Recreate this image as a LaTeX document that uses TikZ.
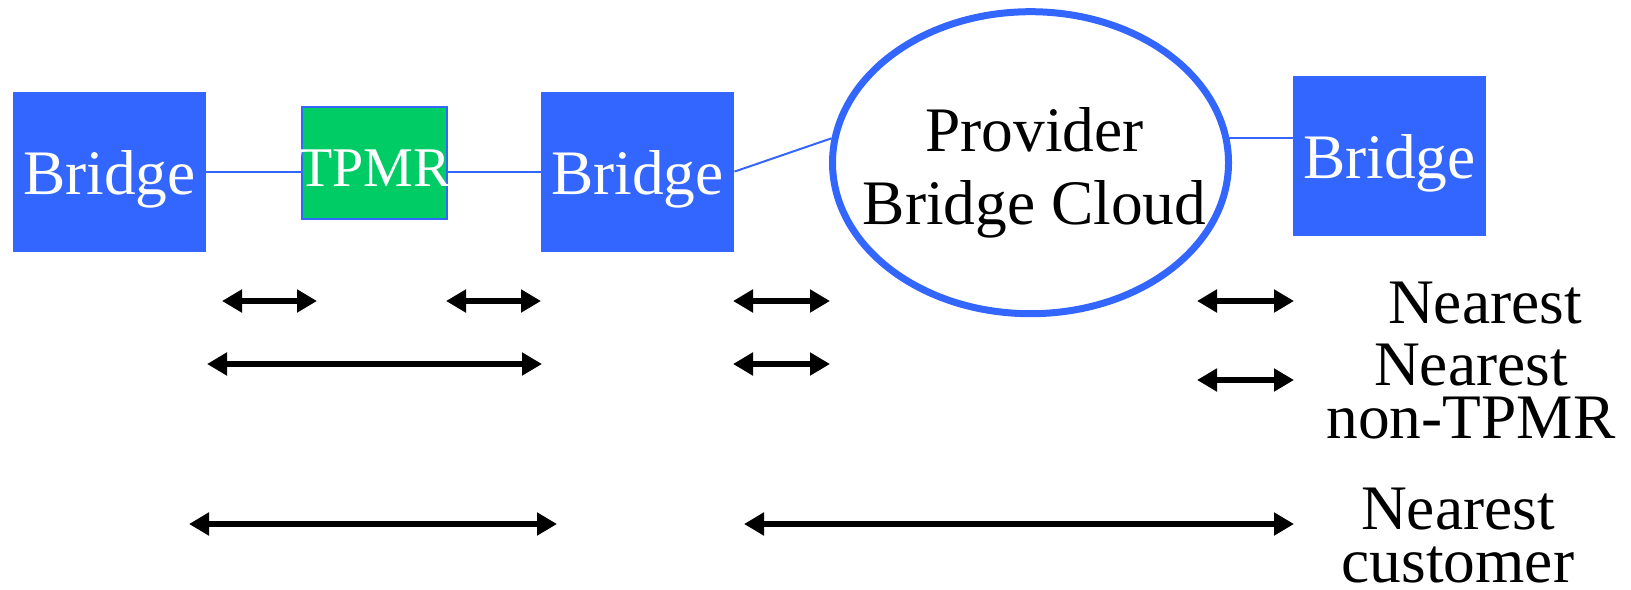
\documentclass[tikz,border=0pt]{standalone}
\usepackage{fontspec}
\setmainfont{Liberation Serif}
\usetikzlibrary{arrows.meta,shapes.geometric}
\definecolor{bridgeblue}{RGB}{51,102,255}
\definecolor{tpmrgreen}{RGB}{0,204,102}

\begin{document}
\begin{tikzpicture}[
        x=0.5pt, y=-0.5pt,
        bridgebox/.style={
            rectangle,
            fill=bridgeblue,
            minimum width=96.6pt,
            minimum height=80pt,
            inner sep=0pt,
            text=white,
            text height=23pt,
            text depth=0pt,
            font=\fontsize{31.7}{36.5}\selectfont
        },
        tpmrbox/.style={
            rectangle,
            fill=tpmrgreen,
            draw=bridgeblue,
            line width=1pt,
            minimum width=72.7pt,
            minimum height=56.2pt,
            inner sep=0pt,
            text=white,
            text height=23.5pt,
            text depth=0pt,
            font=\fontsize{28}{30}\selectfont
        },
        cloudshape/.style={
            ellipse,
            draw=bridgeblue,
            line width=3.5pt,
            minimum width=198pt,
            minimum height=151pt,
            inner sep=0pt
        },
        cloudtext/.style={align=center, inner sep=0pt, font=\fontsize{31.7}{36.5}\selectfont},
        wire/.style={draw=bridgeblue, line width=1pt},
        hop/.style={{Triangle[length=10pt,width=11pt]}-{Triangle[length=10pt,width=11pt]}, line width=3.2pt},
        scopelabel/.style={align=center, inner sep=0pt, anchor=base, font=\fontsize{31.7}{26.5}\selectfont}
    ]
        \useasboundingbox (0,0) rectangle (1631,589);

        % Customer side (bridge - TPMR - bridge)
        \node[bridgebox] (b1) at (109.3,171.6) {Bridge};
        \node[tpmrbox] (tpmr) at (374.3,163.2) {\makebox[0pt]{TPMR}};
        \node[bridgebox] (b2) at (637.5,171.6) {Bridge};

        % Provider side
        \node[cloudshape] (cloud) at (1030.5,162.7) {};
        \node[cloudtext, yshift=-5pt, xshift=2pt] (cloudname) at (cloud) {Provider\\Bridge Cloud};
        \node[bridgebox] (b3) at (1389.5,155.5) {Bridge};

        % Wires
        \draw[wire] (b1.east) -- (b1.east -| tpmr.west);
        \draw[wire] (tpmr.east |- b2.west) -- (b2.west);
        \draw[wire] (b2.east) -- (cloud.173);
        \draw[wire] (cloud.7) -- (cloud.7 -| b3.west);

        % Nearest
        \coordinate (na1) at (222,301);  \coordinate (na2) at (317,301);
        \coordinate (nb1) at (446,301);  \coordinate (nb2) at (541,301);
        \coordinate (nc1) at (733,301);  \coordinate (nc2) at (830,301);
        \coordinate (nd1) at (1197,301); \coordinate (nd2) at (1294,301);
        \draw[hop] (na1) -- (na2);
        \draw[hop] (nb1) -- (nb2);
        \draw[hop] (nc1) -- (nc2);
        \draw[hop] (nd1) -- (nd2);

        % Nearest non-TPMR
        \coordinate (ta1) at (207,364);  \coordinate (ta2) at (542,364);
        \coordinate (tb1) at (733,364);  \coordinate (tb2) at (830,364);
        \coordinate (tc1) at (1197,380); \coordinate (tc2) at (1294,380);
        \draw[hop] (ta1) -- (ta2);
        \draw[hop] (tb1) -- (tb2);
        \draw[hop] (tc1) -- (tc2);

        % Nearest customer
        \coordinate (ca1) at (189,524);  \coordinate (ca2) at (557,524);
        \coordinate (cb1) at (744,524);  \coordinate (cb2) at (1294,524);
        \draw[hop] (ca1) -- (ca2);
        \draw[hop] (cb1) -- (cb2);

        % Labels
        \node[scopelabel] (nearest) at (1485,323) {Nearest};
        \node[scopelabel] (nontpmr) at (1471,438.5) {Nearest\\non-TPMR};
        \node[scopelabel] (customer) at (1458,582) {Nearest\\customer};
    \end{tikzpicture}
\end{document}
